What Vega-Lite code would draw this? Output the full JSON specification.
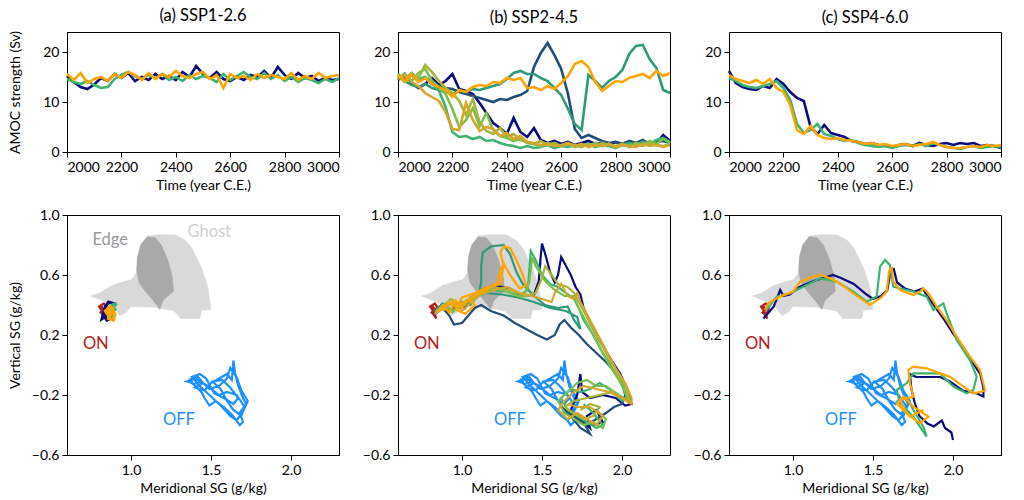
{
"$schema":"https://vega.github.io/schema/vega-lite/v6.json",
"padding":{"left":7,"top":7,"right":5,"bottom":2},
"config":{"font":"Lato","view":{"stroke":"black","strokeWidth":1},
"axis":{"grid":false,"domainColor":"black","tickColor":"black","labelColor":"black","titleColor":"black","labelFontSize":14,"titleFontSize":14,"titleFontWeight":"normal","tickSize":5,"labelPadding":3,"titlePadding":4,"labelFont":"Lato","titleFont":"Lato"},
"axisY":{"minExtent":40,"maxExtent":40,"titlePadding":5},
"title":{"fontSize":16.5,"fontWeight":"normal","font":"Lato","offset":6,"color":"black"}},
"columns":3,"bounds":"flush","align":"each","spacing":{"row":63,"column":59},
"datasets":{
"ts":[
{"p":"a","r":"r1","t":2000,"v":15.2},{"p":"a","r":"r1","t":2025,"v":14.0},{"p":"a","r":"r1","t":2050,"v":13.0},{"p":"a","r":"r1","t":2075,"v":12.6},{"p":"a","r":"r1","t":2100,"v":13.5},{"p":"a","r":"r1","t":2125,"v":14.8},{"p":"a","r":"r1","t":2150,"v":14.2},{"p":"a","r":"r1","t":2175,"v":15.6},{"p":"a","r":"r1","t":2200,"v":14.8},{"p":"a","r":"r1","t":2225,"v":15.8},{"p":"a","r":"r1","t":2250,"v":14.2},{"p":"a","r":"r1","t":2275,"v":15.0},{"p":"a","r":"r1","t":2300,"v":14.4},{"p":"a","r":"r1","t":2325,"v":15.6},{"p":"a","r":"r1","t":2350,"v":14.6},{"p":"a","r":"r1","t":2375,"v":15.2},{"p":"a","r":"r1","t":2400,"v":14.4},{"p":"a","r":"r1","t":2425,"v":16.0},{"p":"a","r":"r1","t":2450,"v":15.0},{"p":"a","r":"r1","t":2475,"v":17.2},{"p":"a","r":"r1","t":2500,"v":15.6},{"p":"a","r":"r1","t":2525,"v":14.8},{"p":"a","r":"r1","t":2550,"v":16.0},{"p":"a","r":"r1","t":2575,"v":14.6},{"p":"a","r":"r1","t":2600,"v":14.2},{"p":"a","r":"r1","t":2625,"v":15.0},{"p":"a","r":"r1","t":2650,"v":14.4},{"p":"a","r":"r1","t":2675,"v":15.4},{"p":"a","r":"r1","t":2700,"v":15.0},{"p":"a","r":"r1","t":2725,"v":16.2},{"p":"a","r":"r1","t":2750,"v":14.8},{"p":"a","r":"r1","t":2775,"v":17.0},{"p":"a","r":"r1","t":2800,"v":15.4},{"p":"a","r":"r1","t":2825,"v":14.6},{"p":"a","r":"r1","t":2850,"v":15.8},{"p":"a","r":"r1","t":2875,"v":14.8},{"p":"a","r":"r1","t":2900,"v":15.2},{"p":"a","r":"r1","t":2925,"v":14.2},{"p":"a","r":"r1","t":2950,"v":14.8},{"p":"a","r":"r1","t":2975,"v":14.4},{"p":"a","r":"r1","t":3000,"v":14.6},
{"p":"a","r":"r4","t":2000,"v":14.6},{"p":"a","r":"r4","t":2025,"v":14.0},{"p":"a","r":"r4","t":2050,"v":13.6},{"p":"a","r":"r4","t":2075,"v":14.2},{"p":"a","r":"r4","t":2100,"v":13.4},{"p":"a","r":"r4","t":2125,"v":12.8},{"p":"a","r":"r4","t":2150,"v":13.0},{"p":"a","r":"r4","t":2175,"v":14.6},{"p":"a","r":"r4","t":2200,"v":15.4},{"p":"a","r":"r4","t":2225,"v":16.0},{"p":"a","r":"r4","t":2250,"v":15.2},{"p":"a","r":"r4","t":2275,"v":14.6},{"p":"a","r":"r4","t":2300,"v":15.4},{"p":"a","r":"r4","t":2325,"v":14.8},{"p":"a","r":"r4","t":2350,"v":15.6},{"p":"a","r":"r4","t":2375,"v":14.4},{"p":"a","r":"r4","t":2400,"v":15.0},{"p":"a","r":"r4","t":2425,"v":14.2},{"p":"a","r":"r4","t":2450,"v":15.4},{"p":"a","r":"r4","t":2475,"v":14.6},{"p":"a","r":"r4","t":2500,"v":15.2},{"p":"a","r":"r4","t":2525,"v":14.8},{"p":"a","r":"r4","t":2550,"v":14.0},{"p":"a","r":"r4","t":2575,"v":15.6},{"p":"a","r":"r4","t":2600,"v":14.4},{"p":"a","r":"r4","t":2625,"v":15.2},{"p":"a","r":"r4","t":2650,"v":16.0},{"p":"a","r":"r4","t":2675,"v":15.0},{"p":"a","r":"r4","t":2700,"v":14.6},{"p":"a","r":"r4","t":2725,"v":15.8},{"p":"a","r":"r4","t":2750,"v":14.6},{"p":"a","r":"r4","t":2775,"v":15.4},{"p":"a","r":"r4","t":2800,"v":14.2},{"p":"a","r":"r4","t":2825,"v":15.0},{"p":"a","r":"r4","t":2850,"v":14.0},{"p":"a","r":"r4","t":2875,"v":14.8},{"p":"a","r":"r4","t":2900,"v":14.4},{"p":"a","r":"r4","t":2925,"v":13.8},{"p":"a","r":"r4","t":2950,"v":14.6},{"p":"a","r":"r4","t":2975,"v":14.0},{"p":"a","r":"r4","t":3000,"v":14.8},
{"p":"a","r":"r8","t":2000,"v":15.6},{"p":"a","r":"r8","t":2025,"v":14.4},{"p":"a","r":"r8","t":2050,"v":15.8},{"p":"a","r":"r8","t":2075,"v":13.8},{"p":"a","r":"r8","t":2100,"v":14.6},{"p":"a","r":"r8","t":2125,"v":15.0},{"p":"a","r":"r8","t":2150,"v":14.2},{"p":"a","r":"r8","t":2175,"v":15.6},{"p":"a","r":"r8","t":2200,"v":14.8},{"p":"a","r":"r8","t":2225,"v":16.0},{"p":"a","r":"r8","t":2250,"v":15.4},{"p":"a","r":"r8","t":2275,"v":14.4},{"p":"a","r":"r8","t":2300,"v":15.8},{"p":"a","r":"r8","t":2325,"v":14.6},{"p":"a","r":"r8","t":2350,"v":15.6},{"p":"a","r":"r8","t":2375,"v":15.0},{"p":"a","r":"r8","t":2400,"v":16.2},{"p":"a","r":"r8","t":2425,"v":15.2},{"p":"a","r":"r8","t":2450,"v":14.8},{"p":"a","r":"r8","t":2475,"v":15.6},{"p":"a","r":"r8","t":2500,"v":16.0},{"p":"a","r":"r8","t":2525,"v":14.6},{"p":"a","r":"r8","t":2550,"v":15.4},{"p":"a","r":"r8","t":2575,"v":12.8},{"p":"a","r":"r8","t":2600,"v":15.6},{"p":"a","r":"r8","t":2625,"v":14.8},{"p":"a","r":"r8","t":2650,"v":15.2},{"p":"a","r":"r8","t":2675,"v":14.4},{"p":"a","r":"r8","t":2700,"v":15.6},{"p":"a","r":"r8","t":2725,"v":14.8},{"p":"a","r":"r8","t":2750,"v":15.4},{"p":"a","r":"r8","t":2775,"v":15.0},{"p":"a","r":"r8","t":2800,"v":14.6},{"p":"a","r":"r8","t":2825,"v":15.8},{"p":"a","r":"r8","t":2850,"v":14.4},{"p":"a","r":"r8","t":2875,"v":15.2},{"p":"a","r":"r8","t":2900,"v":14.6},{"p":"a","r":"r8","t":2925,"v":15.8},{"p":"a","r":"r8","t":2950,"v":14.8},{"p":"a","r":"r8","t":2975,"v":15.2},{"p":"a","r":"r8","t":3000,"v":15.4},
{"p":"b","r":"r1","t":2000,"v":14.4},{"p":"b","r":"r1","t":2025,"v":15.6},{"p":"b","r":"r1","t":2050,"v":13.8},{"p":"b","r":"r1","t":2075,"v":12.8},{"p":"b","r":"r1","t":2100,"v":13.6},{"p":"b","r":"r1","t":2125,"v":14.8},{"p":"b","r":"r1","t":2150,"v":13.4},{"p":"b","r":"r1","t":2175,"v":14.2},{"p":"b","r":"r1","t":2200,"v":15.6},{"p":"b","r":"r1","t":2225,"v":12.6},{"p":"b","r":"r1","t":2250,"v":12.2},{"p":"b","r":"r1","t":2275,"v":11.6},{"p":"b","r":"r1","t":2300,"v":9.8},{"p":"b","r":"r1","t":2325,"v":7.8},{"p":"b","r":"r1","t":2350,"v":5.8},{"p":"b","r":"r1","t":2375,"v":4.8},{"p":"b","r":"r1","t":2400,"v":3.6},{"p":"b","r":"r1","t":2425,"v":6.8},{"p":"b","r":"r1","t":2450,"v":4.0},{"p":"b","r":"r1","t":2475,"v":3.0},{"p":"b","r":"r1","t":2500,"v":4.8},{"p":"b","r":"r1","t":2525,"v":2.4},{"p":"b","r":"r1","t":2550,"v":1.8},{"p":"b","r":"r1","t":2575,"v":2.2},{"p":"b","r":"r1","t":2600,"v":1.6},{"p":"b","r":"r1","t":2625,"v":2.0},{"p":"b","r":"r1","t":2650,"v":1.4},{"p":"b","r":"r1","t":2675,"v":1.8},{"p":"b","r":"r1","t":2700,"v":2.2},{"p":"b","r":"r1","t":2725,"v":1.6},{"p":"b","r":"r1","t":2750,"v":1.8},{"p":"b","r":"r1","t":2775,"v":1.4},{"p":"b","r":"r1","t":2800,"v":2.0},{"p":"b","r":"r1","t":2825,"v":1.6},{"p":"b","r":"r1","t":2850,"v":1.2},{"p":"b","r":"r1","t":2875,"v":1.8},{"p":"b","r":"r1","t":2900,"v":1.4},{"p":"b","r":"r1","t":2925,"v":2.0},{"p":"b","r":"r1","t":2950,"v":1.8},{"p":"b","r":"r1","t":2975,"v":3.4},{"p":"b","r":"r1","t":3000,"v":2.2},
{"p":"b","r":"r2","t":2000,"v":15.2},{"p":"b","r":"r2","t":2025,"v":14.6},{"p":"b","r":"r2","t":2050,"v":15.4},{"p":"b","r":"r2","t":2075,"v":14.2},{"p":"b","r":"r2","t":2100,"v":14.8},{"p":"b","r":"r2","t":2125,"v":13.6},{"p":"b","r":"r2","t":2150,"v":13.2},{"p":"b","r":"r2","t":2175,"v":12.8},{"p":"b","r":"r2","t":2200,"v":12.6},{"p":"b","r":"r2","t":2225,"v":12.0},{"p":"b","r":"r2","t":2250,"v":11.6},{"p":"b","r":"r2","t":2275,"v":11.2},{"p":"b","r":"r2","t":2300,"v":10.8},{"p":"b","r":"r2","t":2325,"v":10.4},{"p":"b","r":"r2","t":2350,"v":10.0},{"p":"b","r":"r2","t":2375,"v":10.6},{"p":"b","r":"r2","t":2400,"v":10.4},{"p":"b","r":"r2","t":2425,"v":11.0},{"p":"b","r":"r2","t":2450,"v":11.4},{"p":"b","r":"r2","t":2475,"v":12.2},{"p":"b","r":"r2","t":2500,"v":17.0},{"p":"b","r":"r2","t":2525,"v":19.8},{"p":"b","r":"r2","t":2550,"v":21.8},{"p":"b","r":"r2","t":2575,"v":19.4},{"p":"b","r":"r2","t":2600,"v":16.6},{"p":"b","r":"r2","t":2625,"v":11.6},{"p":"b","r":"r2","t":2650,"v":4.6},{"p":"b","r":"r2","t":2675,"v":2.8},{"p":"b","r":"r2","t":2700,"v":3.4},{"p":"b","r":"r2","t":2725,"v":2.8},{"p":"b","r":"r2","t":2750,"v":2.2},{"p":"b","r":"r2","t":2775,"v":1.8},{"p":"b","r":"r2","t":2800,"v":2.0},{"p":"b","r":"r2","t":2825,"v":1.6},{"p":"b","r":"r2","t":2850,"v":2.2},{"p":"b","r":"r2","t":2875,"v":1.8},{"p":"b","r":"r2","t":2900,"v":2.4},{"p":"b","r":"r2","t":2925,"v":1.6},{"p":"b","r":"r2","t":2950,"v":2.0},{"p":"b","r":"r2","t":2975,"v":2.2},{"p":"b","r":"r2","t":3000,"v":1.8},
{"p":"b","r":"r3","t":2000,"v":15.0},{"p":"b","r":"r3","t":2025,"v":14.2},{"p":"b","r":"r3","t":2050,"v":13.4},{"p":"b","r":"r3","t":2075,"v":13.0},{"p":"b","r":"r3","t":2100,"v":13.6},{"p":"b","r":"r3","t":2125,"v":12.8},{"p":"b","r":"r3","t":2150,"v":12.4},{"p":"b","r":"r3","t":2175,"v":12.0},{"p":"b","r":"r3","t":2200,"v":11.6},{"p":"b","r":"r3","t":2225,"v":12.2},{"p":"b","r":"r3","t":2250,"v":12.0},{"p":"b","r":"r3","t":2275,"v":12.6},{"p":"b","r":"r3","t":2300,"v":12.4},{"p":"b","r":"r3","t":2325,"v":12.8},{"p":"b","r":"r3","t":2350,"v":13.2},{"p":"b","r":"r3","t":2375,"v":13.6},{"p":"b","r":"r3","t":2400,"v":14.6},{"p":"b","r":"r3","t":2425,"v":15.8},{"p":"b","r":"r3","t":2450,"v":16.2},{"p":"b","r":"r3","t":2475,"v":15.6},{"p":"b","r":"r3","t":2500,"v":15.6},{"p":"b","r":"r3","t":2525,"v":14.8},{"p":"b","r":"r3","t":2550,"v":14.2},{"p":"b","r":"r3","t":2575,"v":12.8},{"p":"b","r":"r3","t":2600,"v":11.4},{"p":"b","r":"r3","t":2625,"v":8.6},{"p":"b","r":"r3","t":2650,"v":5.6},{"p":"b","r":"r3","t":2675,"v":4.4},{"p":"b","r":"r3","t":2700,"v":15.4},{"p":"b","r":"r3","t":2725,"v":14.2},{"p":"b","r":"r3","t":2750,"v":12.8},{"p":"b","r":"r3","t":2775,"v":14.2},{"p":"b","r":"r3","t":2800,"v":15.0},{"p":"b","r":"r3","t":2825,"v":16.4},{"p":"b","r":"r3","t":2850,"v":19.6},{"p":"b","r":"r3","t":2875,"v":21.2},{"p":"b","r":"r3","t":2900,"v":21.4},{"p":"b","r":"r3","t":2925,"v":18.6},{"p":"b","r":"r3","t":2950,"v":16.8},{"p":"b","r":"r3","t":2975,"v":12.4},{"p":"b","r":"r3","t":3000,"v":11.8},
{"p":"b","r":"r4","t":2000,"v":15.6},{"p":"b","r":"r4","t":2025,"v":14.4},{"p":"b","r":"r4","t":2050,"v":15.8},{"p":"b","r":"r4","t":2075,"v":14.6},{"p":"b","r":"r4","t":2100,"v":15.0},{"p":"b","r":"r4","t":2125,"v":13.8},{"p":"b","r":"r4","t":2150,"v":12.4},{"p":"b","r":"r4","t":2175,"v":9.0},{"p":"b","r":"r4","t":2200,"v":4.0},{"p":"b","r":"r4","t":2225,"v":3.0},{"p":"b","r":"r4","t":2250,"v":3.2},{"p":"b","r":"r4","t":2275,"v":2.6},{"p":"b","r":"r4","t":2300,"v":3.0},{"p":"b","r":"r4","t":2325,"v":2.2},{"p":"b","r":"r4","t":2350,"v":2.4},{"p":"b","r":"r4","t":2375,"v":1.8},{"p":"b","r":"r4","t":2400,"v":1.4},{"p":"b","r":"r4","t":2425,"v":1.2},{"p":"b","r":"r4","t":2450,"v":0.8},{"p":"b","r":"r4","t":2475,"v":1.2},{"p":"b","r":"r4","t":2500,"v":0.8},{"p":"b","r":"r4","t":2525,"v":1.0},{"p":"b","r":"r4","t":2550,"v":1.4},{"p":"b","r":"r4","t":2575,"v":0.8},{"p":"b","r":"r4","t":2600,"v":1.2},{"p":"b","r":"r4","t":2625,"v":1.0},{"p":"b","r":"r4","t":2650,"v":1.4},{"p":"b","r":"r4","t":2675,"v":1.2},{"p":"b","r":"r4","t":2700,"v":1.6},{"p":"b","r":"r4","t":2725,"v":1.0},{"p":"b","r":"r4","t":2750,"v":1.4},{"p":"b","r":"r4","t":2775,"v":1.2},{"p":"b","r":"r4","t":2800,"v":0.8},{"p":"b","r":"r4","t":2825,"v":1.4},{"p":"b","r":"r4","t":2850,"v":1.8},{"p":"b","r":"r4","t":2875,"v":1.4},{"p":"b","r":"r4","t":2900,"v":2.0},{"p":"b","r":"r4","t":2925,"v":1.6},{"p":"b","r":"r4","t":2950,"v":2.4},{"p":"b","r":"r4","t":2975,"v":2.8},{"p":"b","r":"r4","t":3000,"v":2.0},
{"p":"b","r":"r5","t":2000,"v":14.8},{"p":"b","r":"r5","t":2025,"v":15.6},{"p":"b","r":"r5","t":2050,"v":14.2},{"p":"b","r":"r5","t":2075,"v":15.8},{"p":"b","r":"r5","t":2100,"v":16.6},{"p":"b","r":"r5","t":2125,"v":14.2},{"p":"b","r":"r5","t":2150,"v":13.0},{"p":"b","r":"r5","t":2175,"v":11.6},{"p":"b","r":"r5","t":2200,"v":8.6},{"p":"b","r":"r5","t":2225,"v":5.0},{"p":"b","r":"r5","t":2250,"v":6.4},{"p":"b","r":"r5","t":2275,"v":8.8},{"p":"b","r":"r5","t":2300,"v":5.2},{"p":"b","r":"r5","t":2325,"v":7.8},{"p":"b","r":"r5","t":2350,"v":4.4},{"p":"b","r":"r5","t":2375,"v":3.2},{"p":"b","r":"r5","t":2400,"v":2.8},{"p":"b","r":"r5","t":2425,"v":2.2},{"p":"b","r":"r5","t":2450,"v":2.6},{"p":"b","r":"r5","t":2475,"v":1.8},{"p":"b","r":"r5","t":2500,"v":1.6},{"p":"b","r":"r5","t":2525,"v":1.2},{"p":"b","r":"r5","t":2550,"v":1.8},{"p":"b","r":"r5","t":2575,"v":1.4},{"p":"b","r":"r5","t":2600,"v":1.2},{"p":"b","r":"r5","t":2625,"v":1.6},{"p":"b","r":"r5","t":2650,"v":1.0},{"p":"b","r":"r5","t":2675,"v":1.4},{"p":"b","r":"r5","t":2700,"v":1.2},{"p":"b","r":"r5","t":2725,"v":1.8},{"p":"b","r":"r5","t":2750,"v":1.2},{"p":"b","r":"r5","t":2775,"v":1.6},{"p":"b","r":"r5","t":2800,"v":1.0},{"p":"b","r":"r5","t":2825,"v":1.4},{"p":"b","r":"r5","t":2850,"v":1.2},{"p":"b","r":"r5","t":2875,"v":1.8},{"p":"b","r":"r5","t":2900,"v":1.4},{"p":"b","r":"r5","t":2925,"v":2.2},{"p":"b","r":"r5","t":2950,"v":1.6},{"p":"b","r":"r5","t":2975,"v":2.6},{"p":"b","r":"r5","t":3000,"v":1.8},
{"p":"b","r":"r6","t":2000,"v":15.2},{"p":"b","r":"r6","t":2025,"v":14.0},{"p":"b","r":"r6","t":2050,"v":15.4},{"p":"b","r":"r6","t":2075,"v":14.8},{"p":"b","r":"r6","t":2100,"v":17.4},{"p":"b","r":"r6","t":2125,"v":16.0},{"p":"b","r":"r6","t":2150,"v":14.2},{"p":"b","r":"r6","t":2175,"v":12.8},{"p":"b","r":"r6","t":2200,"v":11.8},{"p":"b","r":"r6","t":2225,"v":10.2},{"p":"b","r":"r6","t":2250,"v":7.4},{"p":"b","r":"r6","t":2275,"v":10.6},{"p":"b","r":"r6","t":2300,"v":6.0},{"p":"b","r":"r6","t":2325,"v":4.2},{"p":"b","r":"r6","t":2350,"v":3.6},{"p":"b","r":"r6","t":2375,"v":4.8},{"p":"b","r":"r6","t":2400,"v":3.0},{"p":"b","r":"r6","t":2425,"v":3.6},{"p":"b","r":"r6","t":2450,"v":2.4},{"p":"b","r":"r6","t":2475,"v":2.0},{"p":"b","r":"r6","t":2500,"v":1.6},{"p":"b","r":"r6","t":2525,"v":2.2},{"p":"b","r":"r6","t":2550,"v":1.4},{"p":"b","r":"r6","t":2575,"v":1.8},{"p":"b","r":"r6","t":2600,"v":1.2},{"p":"b","r":"r6","t":2625,"v":1.6},{"p":"b","r":"r6","t":2650,"v":1.4},{"p":"b","r":"r6","t":2675,"v":1.0},{"p":"b","r":"r6","t":2700,"v":1.6},{"p":"b","r":"r6","t":2725,"v":1.2},{"p":"b","r":"r6","t":2750,"v":1.8},{"p":"b","r":"r6","t":2775,"v":1.4},{"p":"b","r":"r6","t":2800,"v":1.2},{"p":"b","r":"r6","t":2825,"v":1.6},{"p":"b","r":"r6","t":2850,"v":1.0},{"p":"b","r":"r6","t":2875,"v":1.4},{"p":"b","r":"r6","t":2900,"v":1.2},{"p":"b","r":"r6","t":2925,"v":1.8},{"p":"b","r":"r6","t":2950,"v":1.4},{"p":"b","r":"r6","t":2975,"v":1.2},{"p":"b","r":"r6","t":3000,"v":1.6},
{"p":"b","r":"r7","t":2000,"v":14.6},{"p":"b","r":"r7","t":2025,"v":15.4},{"p":"b","r":"r7","t":2050,"v":14.0},{"p":"b","r":"r7","t":2075,"v":13.2},{"p":"b","r":"r7","t":2100,"v":11.8},{"p":"b","r":"r7","t":2125,"v":11.0},{"p":"b","r":"r7","t":2150,"v":10.2},{"p":"b","r":"r7","t":2175,"v":8.0},{"p":"b","r":"r7","t":2200,"v":4.6},{"p":"b","r":"r7","t":2225,"v":4.4},{"p":"b","r":"r7","t":2250,"v":9.8},{"p":"b","r":"r7","t":2275,"v":6.4},{"p":"b","r":"r7","t":2300,"v":4.2},{"p":"b","r":"r7","t":2325,"v":5.0},{"p":"b","r":"r7","t":2350,"v":4.6},{"p":"b","r":"r7","t":2375,"v":3.2},{"p":"b","r":"r7","t":2400,"v":3.8},{"p":"b","r":"r7","t":2425,"v":2.6},{"p":"b","r":"r7","t":2450,"v":3.2},{"p":"b","r":"r7","t":2475,"v":2.0},{"p":"b","r":"r7","t":2500,"v":1.8},{"p":"b","r":"r7","t":2525,"v":1.4},{"p":"b","r":"r7","t":2550,"v":1.6},{"p":"b","r":"r7","t":2575,"v":1.2},{"p":"b","r":"r7","t":2600,"v":1.4},{"p":"b","r":"r7","t":2625,"v":1.8},{"p":"b","r":"r7","t":2650,"v":1.2},{"p":"b","r":"r7","t":2675,"v":1.6},{"p":"b","r":"r7","t":2700,"v":1.0},{"p":"b","r":"r7","t":2725,"v":1.4},{"p":"b","r":"r7","t":2750,"v":1.2},{"p":"b","r":"r7","t":2775,"v":1.6},{"p":"b","r":"r7","t":2800,"v":1.0},{"p":"b","r":"r7","t":2825,"v":1.4},{"p":"b","r":"r7","t":2850,"v":1.2},{"p":"b","r":"r7","t":2875,"v":1.0},{"p":"b","r":"r7","t":2900,"v":1.6},{"p":"b","r":"r7","t":2925,"v":1.2},{"p":"b","r":"r7","t":2950,"v":1.4},{"p":"b","r":"r7","t":2975,"v":1.0},{"p":"b","r":"r7","t":3000,"v":1.4},
{"p":"b","r":"r8","t":2000,"v":15.4},{"p":"b","r":"r8","t":2025,"v":14.2},{"p":"b","r":"r8","t":2050,"v":15.6},{"p":"b","r":"r8","t":2075,"v":14.0},{"p":"b","r":"r8","t":2100,"v":14.8},{"p":"b","r":"r8","t":2125,"v":13.6},{"p":"b","r":"r8","t":2150,"v":13.0},{"p":"b","r":"r8","t":2175,"v":12.4},{"p":"b","r":"r8","t":2200,"v":11.0},{"p":"b","r":"r8","t":2225,"v":12.4},{"p":"b","r":"r8","t":2250,"v":12.0},{"p":"b","r":"r8","t":2275,"v":13.0},{"p":"b","r":"r8","t":2300,"v":13.4},{"p":"b","r":"r8","t":2325,"v":13.2},{"p":"b","r":"r8","t":2350,"v":14.0},{"p":"b","r":"r8","t":2375,"v":13.8},{"p":"b","r":"r8","t":2400,"v":14.8},{"p":"b","r":"r8","t":2425,"v":14.4},{"p":"b","r":"r8","t":2450,"v":14.8},{"p":"b","r":"r8","t":2475,"v":12.8},{"p":"b","r":"r8","t":2500,"v":13.0},{"p":"b","r":"r8","t":2525,"v":12.4},{"p":"b","r":"r8","t":2550,"v":13.2},{"p":"b","r":"r8","t":2575,"v":12.6},{"p":"b","r":"r8","t":2600,"v":13.8},{"p":"b","r":"r8","t":2625,"v":15.2},{"p":"b","r":"r8","t":2650,"v":17.6},{"p":"b","r":"r8","t":2675,"v":18.2},{"p":"b","r":"r8","t":2700,"v":17.0},{"p":"b","r":"r8","t":2725,"v":14.0},{"p":"b","r":"r8","t":2750,"v":12.2},{"p":"b","r":"r8","t":2775,"v":13.2},{"p":"b","r":"r8","t":2800,"v":14.2},{"p":"b","r":"r8","t":2825,"v":14.0},{"p":"b","r":"r8","t":2850,"v":14.8},{"p":"b","r":"r8","t":2875,"v":15.2},{"p":"b","r":"r8","t":2900,"v":15.6},{"p":"b","r":"r8","t":2925,"v":14.8},{"p":"b","r":"r8","t":2950,"v":16.2},{"p":"b","r":"r8","t":2975,"v":15.2},{"p":"b","r":"r8","t":3000,"v":15.8},
{"p":"c","r":"r1","t":2000,"v":16.2},{"p":"c","r":"r1","t":2025,"v":13.8},{"p":"c","r":"r1","t":2050,"v":13.0},{"p":"c","r":"r1","t":2075,"v":12.6},{"p":"c","r":"r1","t":2100,"v":12.4},{"p":"c","r":"r1","t":2125,"v":13.2},{"p":"c","r":"r1","t":2150,"v":12.8},{"p":"c","r":"r1","t":2175,"v":14.6},{"p":"c","r":"r1","t":2200,"v":13.6},{"p":"c","r":"r1","t":2225,"v":12.0},{"p":"c","r":"r1","t":2250,"v":10.8},{"p":"c","r":"r1","t":2275,"v":10.2},{"p":"c","r":"r1","t":2300,"v":5.0},{"p":"c","r":"r1","t":2325,"v":3.6},{"p":"c","r":"r1","t":2350,"v":5.4},{"p":"c","r":"r1","t":2375,"v":3.8},{"p":"c","r":"r1","t":2400,"v":3.4},{"p":"c","r":"r1","t":2425,"v":3.0},{"p":"c","r":"r1","t":2450,"v":2.2},{"p":"c","r":"r1","t":2475,"v":2.0},{"p":"c","r":"r1","t":2500,"v":1.6},{"p":"c","r":"r1","t":2525,"v":1.8},{"p":"c","r":"r1","t":2550,"v":1.4},{"p":"c","r":"r1","t":2575,"v":1.2},{"p":"c","r":"r1","t":2600,"v":1.0},{"p":"c","r":"r1","t":2625,"v":1.4},{"p":"c","r":"r1","t":2650,"v":1.6},{"p":"c","r":"r1","t":2675,"v":1.2},{"p":"c","r":"r1","t":2700,"v":1.8},{"p":"c","r":"r1","t":2725,"v":1.4},{"p":"c","r":"r1","t":2750,"v":1.2},{"p":"c","r":"r1","t":2775,"v":1.6},{"p":"c","r":"r1","t":2800,"v":1.8},{"p":"c","r":"r1","t":2825,"v":1.4},{"p":"c","r":"r1","t":2850,"v":1.8},{"p":"c","r":"r1","t":2875,"v":1.6},{"p":"c","r":"r1","t":2900,"v":1.8},{"p":"c","r":"r1","t":2925,"v":1.2},{"p":"c","r":"r1","t":2950,"v":1.4},{"p":"c","r":"r1","t":2975,"v":1.2},{"p":"c","r":"r1","t":3000,"v":0.8},
{"p":"c","r":"r4","t":2000,"v":14.8},{"p":"c","r":"r4","t":2025,"v":14.2},{"p":"c","r":"r4","t":2050,"v":13.4},{"p":"c","r":"r4","t":2075,"v":13.0},{"p":"c","r":"r4","t":2100,"v":12.8},{"p":"c","r":"r4","t":2125,"v":13.2},{"p":"c","r":"r4","t":2150,"v":13.6},{"p":"c","r":"r4","t":2175,"v":14.2},{"p":"c","r":"r4","t":2200,"v":12.8},{"p":"c","r":"r4","t":2225,"v":10.4},{"p":"c","r":"r4","t":2250,"v":5.6},{"p":"c","r":"r4","t":2275,"v":3.8},{"p":"c","r":"r4","t":2300,"v":4.4},{"p":"c","r":"r4","t":2325,"v":5.6},{"p":"c","r":"r4","t":2350,"v":3.6},{"p":"c","r":"r4","t":2375,"v":3.2},{"p":"c","r":"r4","t":2400,"v":2.6},{"p":"c","r":"r4","t":2425,"v":2.2},{"p":"c","r":"r4","t":2450,"v":2.4},{"p":"c","r":"r4","t":2475,"v":1.8},{"p":"c","r":"r4","t":2500,"v":1.4},{"p":"c","r":"r4","t":2525,"v":1.2},{"p":"c","r":"r4","t":2550,"v":1.0},{"p":"c","r":"r4","t":2575,"v":1.2},{"p":"c","r":"r4","t":2600,"v":0.8},{"p":"c","r":"r4","t":2625,"v":1.2},{"p":"c","r":"r4","t":2650,"v":1.4},{"p":"c","r":"r4","t":2675,"v":1.2},{"p":"c","r":"r4","t":2700,"v":1.6},{"p":"c","r":"r4","t":2725,"v":1.2},{"p":"c","r":"r4","t":2750,"v":1.8},{"p":"c","r":"r4","t":2775,"v":1.4},{"p":"c","r":"r4","t":2800,"v":1.0},{"p":"c","r":"r4","t":2825,"v":0.8},{"p":"c","r":"r4","t":2850,"v":0.6},{"p":"c","r":"r4","t":2875,"v":1.0},{"p":"c","r":"r4","t":2900,"v":1.2},{"p":"c","r":"r4","t":2925,"v":0.8},{"p":"c","r":"r4","t":2950,"v":1.0},{"p":"c","r":"r4","t":2975,"v":1.2},{"p":"c","r":"r4","t":3000,"v":1.0},
{"p":"c","r":"r8","t":2000,"v":15.4},{"p":"c","r":"r8","t":2025,"v":14.6},{"p":"c","r":"r8","t":2050,"v":14.2},{"p":"c","r":"r8","t":2075,"v":13.8},{"p":"c","r":"r8","t":2100,"v":14.4},{"p":"c","r":"r8","t":2125,"v":13.6},{"p":"c","r":"r8","t":2150,"v":14.6},{"p":"c","r":"r8","t":2175,"v":12.8},{"p":"c","r":"r8","t":2200,"v":12.0},{"p":"c","r":"r8","t":2225,"v":9.4},{"p":"c","r":"r8","t":2250,"v":4.4},{"p":"c","r":"r8","t":2275,"v":3.6},{"p":"c","r":"r8","t":2300,"v":5.2},{"p":"c","r":"r8","t":2325,"v":3.4},{"p":"c","r":"r8","t":2350,"v":2.8},{"p":"c","r":"r8","t":2375,"v":2.6},{"p":"c","r":"r8","t":2400,"v":2.8},{"p":"c","r":"r8","t":2425,"v":2.4},{"p":"c","r":"r8","t":2450,"v":2.2},{"p":"c","r":"r8","t":2475,"v":2.0},{"p":"c","r":"r8","t":2500,"v":1.6},{"p":"c","r":"r8","t":2525,"v":1.8},{"p":"c","r":"r8","t":2550,"v":1.4},{"p":"c","r":"r8","t":2575,"v":1.6},{"p":"c","r":"r8","t":2600,"v":1.2},{"p":"c","r":"r8","t":2625,"v":1.4},{"p":"c","r":"r8","t":2650,"v":1.6},{"p":"c","r":"r8","t":2675,"v":1.2},{"p":"c","r":"r8","t":2700,"v":1.4},{"p":"c","r":"r8","t":2725,"v":1.6},{"p":"c","r":"r8","t":2750,"v":2.0},{"p":"c","r":"r8","t":2775,"v":1.4},{"p":"c","r":"r8","t":2800,"v":1.0},{"p":"c","r":"r8","t":2825,"v":0.8},{"p":"c","r":"r8","t":2850,"v":0.8},{"p":"c","r":"r8","t":2875,"v":1.0},{"p":"c","r":"r8","t":2900,"v":1.2},{"p":"c","r":"r8","t":2925,"v":1.0},{"p":"c","r":"r8","t":2950,"v":1.4},{"p":"c","r":"r8","t":2975,"v":1.2},{"p":"c","r":"r8","t":3000,"v":1.4}
],
"shapes":[
{"g":"ghost","i":1,"x":0.745,"y":0.46},{"g":"ghost","i":2,"x":0.8,"y":0.478},{"g":"ghost","i":3,"x":0.88,"y":0.53},{"g":"ghost","i":4,"x":0.95,"y":0.555},{"g":"ghost","i":5,"x":1.005,"y":0.57},{"g":"ghost","i":6,"x":1.05,"y":0.64},{"g":"ghost","i":7,"x":1.07,"y":0.78},{"g":"ghost","i":8,"x":1.1,"y":0.86},{"g":"ghost","i":9,"x":1.18,"y":0.87},{"g":"ghost","i":10,"x":1.28,"y":0.867},{"g":"ghost","i":11,"x":1.34,"y":0.83},{"g":"ghost","i":12,"x":1.38,"y":0.78},{"g":"ghost","i":13,"x":1.44,"y":0.65},{"g":"ghost","i":14,"x":1.48,"y":0.52},{"g":"ghost","i":15,"x":1.5,"y":0.37},{"g":"ghost","i":16,"x":1.44,"y":0.365},{"g":"ghost","i":17,"x":1.43,"y":0.31},{"g":"ghost","i":18,"x":1.31,"y":0.31},{"g":"ghost","i":19,"x":1.27,"y":0.36},{"g":"ghost","i":20,"x":1.15,"y":0.385},{"g":"ghost","i":21,"x":1.0,"y":0.39},{"g":"ghost","i":22,"x":0.97,"y":0.35},{"g":"ghost","i":23,"x":0.93,"y":0.33},{"g":"ghost","i":24,"x":0.91,"y":0.36},{"g":"ghost","i":25,"x":0.88,"y":0.4},{"g":"ghost","i":26,"x":0.82,"y":0.43},{"g":"ghost","i":27,"x":0.745,"y":0.46},
{"g":"edge","i":1,"x":1.1,"y":0.855},{"g":"edge","i":2,"x":1.06,"y":0.8},{"g":"edge","i":3,"x":1.04,"y":0.72},{"g":"edge","i":4,"x":1.035,"y":0.63},{"g":"edge","i":5,"x":1.05,"y":0.55},{"g":"edge","i":6,"x":1.09,"y":0.49},{"g":"edge","i":7,"x":1.13,"y":0.44},{"g":"edge","i":8,"x":1.16,"y":0.4},{"g":"edge","i":9,"x":1.18,"y":0.37},{"g":"edge","i":10,"x":1.2,"y":0.43},{"g":"edge","i":11,"x":1.23,"y":0.46},{"g":"edge","i":12,"x":1.265,"y":0.49},{"g":"edge","i":13,"x":1.26,"y":0.58},{"g":"edge","i":14,"x":1.23,"y":0.7},{"g":"edge","i":15,"x":1.19,"y":0.8},{"g":"edge","i":16,"x":1.15,"y":0.85},{"g":"edge","i":17,"x":1.1,"y":0.855}
],
"attr":[
{"g":"OFF","i":1,"x":1.36,"y":-0.1},{"g":"OFF","i":2,"x":1.42,"y":-0.08},{"g":"OFF","i":3,"x":1.45,"y":-0.12},{"g":"OFF","i":4,"x":1.4,"y":-0.15},{"g":"OFF","i":5,"x":1.46,"y":-0.17},{"g":"OFF","i":6,"x":1.5,"y":-0.12},{"g":"OFF","i":7,"x":1.55,"y":-0.09},{"g":"OFF","i":8,"x":1.6,"y":-0.06},{"g":"OFF","i":9,"x":1.63,"y":-0.1},{"g":"OFF","i":10,"x":1.64,"y":0.03},{"g":"OFF","i":11,"x":1.65,"y":-0.05},{"g":"OFF","i":12,"x":1.67,"y":-0.14},{"g":"OFF","i":13,"x":1.7,"y":-0.22},{"g":"OFF","i":14,"x":1.72,"y":-0.26},{"g":"OFF","i":15,"x":1.68,"y":-0.32},{"g":"OFF","i":16,"x":1.7,"y":-0.38},{"g":"OFF","i":17,"x":1.68,"y":-0.4},{"g":"OFF","i":18,"x":1.63,"y":-0.33},{"g":"OFF","i":19,"x":1.58,"y":-0.28},{"g":"OFF","i":20,"x":1.53,"y":-0.24},{"g":"OFF","i":21,"x":1.49,"y":-0.27},{"g":"OFF","i":22,"x":1.46,"y":-0.22},{"g":"OFF","i":23,"x":1.44,"y":-0.18},{"g":"OFF","i":24,"x":1.38,"y":-0.12},{"g":"OFF","i":25,"x":1.35,"y":-0.11},{"g":"OFF","i":26,"x":1.4,"y":-0.09},{"g":"OFF","i":27,"x":1.48,"y":-0.14},{"g":"OFF","i":28,"x":1.55,"y":-0.2},{"g":"OFF","i":29,"x":1.6,"y":-0.18},{"g":"OFF","i":30,"x":1.66,"y":-0.2},{"g":"OFF","i":31,"x":1.71,"y":-0.28},{"g":"OFF","i":32,"x":1.69,"y":-0.34},{"g":"OFF","i":33,"x":1.64,"y":-0.3},{"g":"OFF","i":34,"x":1.6,"y":-0.24},{"g":"OFF","i":35,"x":1.56,"y":-0.16},{"g":"OFF","i":36,"x":1.51,"y":-0.11},{"g":"OFF","i":37,"x":1.57,"y":-0.1},{"g":"OFF","i":38,"x":1.62,"y":-0.15},{"g":"OFF","i":39,"x":1.67,"y":-0.22},{"g":"OFF","i":40,"x":1.64,"y":-0.26},{"g":"OFF","i":41,"x":1.58,"y":-0.22},{"g":"OFF","i":42,"x":1.52,"y":-0.19},{"g":"OFF","i":43,"x":1.47,"y":-0.09},{"g":"OFF","i":44,"x":1.43,"y":-0.06},{"g":"OFF","i":45,"x":1.38,"y":-0.08},{"g":"OFF","i":46,"x":1.42,"y":-0.13},{"g":"OFF","i":47,"x":1.5,"y":-0.21},{"g":"OFF","i":48,"x":1.56,"y":-0.27},{"g":"OFF","i":49,"x":1.62,"y":-0.34},{"g":"OFF","i":50,"x":1.66,"y":-0.37},{"g":"OFF","i":51,"x":1.7,"y":-0.31},{"g":"OFF","i":52,"x":1.73,"y":-0.24},{"g":"OFF","i":53,"x":1.69,"y":-0.17},{"g":"OFF","i":54,"x":1.66,"y":-0.08},{"g":"OFF","i":55,"x":1.62,"y":-0.02},{"g":"OFF","i":56,"x":1.6,"y":-0.09},{"g":"OFF","i":57,"x":1.55,"y":-0.14},{"g":"OFF","i":58,"x":1.49,"y":-0.16},{"g":"OFF","i":59,"x":1.44,"y":-0.11},{"g":"OFF","i":60,"x":1.39,"y":-0.13},{"g":"OFF","i":61,"x":1.37,"y":-0.09},
{"g":"ON","i":1,"x":0.83,"y":0.37},{"g":"ON","i":2,"x":0.81,"y":0.4},{"g":"ON","i":3,"x":0.82,"y":0.34},{"g":"ON","i":4,"x":0.84,"y":0.31},{"g":"ON","i":5,"x":0.82,"y":0.36},{"g":"ON","i":6,"x":0.8,"y":0.39},{"g":"ON","i":7,"x":0.83,"y":0.41},{"g":"ON","i":8,"x":0.85,"y":0.38},{"g":"ON","i":9,"x":0.83,"y":0.33},{"g":"ON","i":10,"x":0.81,"y":0.35},{"g":"ON","i":11,"x":0.84,"y":0.38}
],
"traj":[
{"p":"a","r":"r1","i":1,"x":0.83,"y":0.33},{"p":"a","r":"r1","i":2,"x":0.85,"y":0.3},{"p":"a","r":"r1","i":3,"x":0.88,"y":0.32},{"p":"a","r":"r1","i":4,"x":0.86,"y":0.37},{"p":"a","r":"r1","i":5,"x":0.89,"y":0.41},{"p":"a","r":"r1","i":6,"x":0.86,"y":0.42},{"p":"a","r":"r1","i":7,"x":0.84,"y":0.39},{"p":"a","r":"r1","i":8,"x":0.82,"y":0.31},{"p":"a","r":"r1","i":9,"x":0.86,"y":0.34},{"p":"a","r":"r1","i":10,"x":0.84,"y":0.36},
{"p":"a","r":"r4","i":1,"x":0.86,"y":0.36},{"p":"a","r":"r4","i":2,"x":0.89,"y":0.39},{"p":"a","r":"r4","i":3,"x":0.91,"y":0.41},{"p":"a","r":"r4","i":4,"x":0.88,"y":0.4},{"p":"a","r":"r4","i":5,"x":0.9,"y":0.37},{"p":"a","r":"r4","i":6,"x":0.87,"y":0.34},{"p":"a","r":"r4","i":7,"x":0.89,"y":0.31},{"p":"a","r":"r4","i":8,"x":0.86,"y":0.33},{"p":"a","r":"r4","i":9,"x":0.88,"y":0.38},
{"p":"a","r":"r8","i":1,"x":0.85,"y":0.35},{"p":"a","r":"r8","i":2,"x":0.88,"y":0.37},{"p":"a","r":"r8","i":3,"x":0.86,"y":0.31},{"p":"a","r":"r8","i":4,"x":0.89,"y":0.3},{"p":"a","r":"r8","i":5,"x":0.9,"y":0.34},{"p":"a","r":"r8","i":6,"x":0.87,"y":0.39},{"p":"a","r":"r8","i":7,"x":0.84,"y":0.36},{"p":"a","r":"r8","i":8,"x":0.86,"y":0.33},{"p":"a","r":"r8","i":9,"x":0.88,"y":0.35},{"p":"a","r":"r8","i":10,"x":0.85,"y":0.38},{"p":"a","r":"r8","i":11,"x":0.87,"y":0.36},
{"p":"b","r":"r1","i":1,"x":0.83,"y":0.35},{"p":"b","r":"r1","i":2,"x":0.87,"y":0.4},{"p":"b","r":"r1","i":3,"x":0.92,"y":0.36},{"p":"b","r":"r1","i":4,"x":0.97,"y":0.41},{"p":"b","r":"r1","i":5,"x":1.02,"y":0.38},{"p":"b","r":"r1","i":6,"x":1.06,"y":0.44},{"p":"b","r":"r1","i":7,"x":1.12,"y":0.5},{"p":"b","r":"r1","i":8,"x":1.2,"y":0.53},{"p":"b","r":"r1","i":9,"x":1.3,"y":0.51},{"p":"b","r":"r1","i":10,"x":1.38,"y":0.46},{"p":"b","r":"r1","i":11,"x":1.45,"y":0.47},{"p":"b","r":"r1","i":12,"x":1.48,"y":0.56},{"p":"b","r":"r1","i":13,"x":1.49,"y":0.7},{"p":"b","r":"r1","i":14,"x":1.5,"y":0.81},{"p":"b","r":"r1","i":15,"x":1.52,"y":0.74},{"p":"b","r":"r1","i":16,"x":1.55,"y":0.62},{"p":"b","r":"r1","i":17,"x":1.58,"y":0.55},{"p":"b","r":"r1","i":18,"x":1.6,"y":0.6},{"p":"b","r":"r1","i":19,"x":1.62,"y":0.72},{"p":"b","r":"r1","i":20,"x":1.65,"y":0.66},{"p":"b","r":"r1","i":21,"x":1.68,"y":0.6},{"p":"b","r":"r1","i":22,"x":1.71,"y":0.52},{"p":"b","r":"r1","i":23,"x":1.74,"y":0.47},{"p":"b","r":"r1","i":24,"x":1.76,"y":0.38},{"p":"b","r":"r1","i":25,"x":1.8,"y":0.28},{"p":"b","r":"r1","i":26,"x":1.86,"y":0.16},{"p":"b","r":"r1","i":27,"x":1.93,"y":0.04},{"p":"b","r":"r1","i":28,"x":1.99,"y":-0.06},{"p":"b","r":"r1","i":29,"x":2.03,"y":-0.16},{"p":"b","r":"r1","i":30,"x":2.06,"y":-0.26},{"p":"b","r":"r1","i":31,"x":2.02,"y":-0.27},{"p":"b","r":"r1","i":32,"x":1.96,"y":-0.22},{"p":"b","r":"r1","i":33,"x":1.88,"y":-0.2},{"p":"b","r":"r1","i":34,"x":1.8,"y":-0.22},{"p":"b","r":"r1","i":35,"x":1.75,"y":-0.18},{"p":"b","r":"r1","i":36,"x":1.74,"y":-0.06},{"p":"b","r":"r1","i":37,"x":1.72,"y":-0.2},{"p":"b","r":"r1","i":38,"x":1.68,"y":-0.3},{"p":"b","r":"r1","i":39,"x":1.74,"y":-0.36},{"p":"b","r":"r1","i":40,"x":1.8,"y":-0.42},{"p":"b","r":"r1","i":41,"x":1.78,"y":-0.34},{"p":"b","r":"r1","i":42,"x":1.84,"y":-0.3},{"p":"b","r":"r1","i":43,"x":1.88,"y":-0.38},{"p":"b","r":"r1","i":44,"x":1.82,"y":-0.4},
{"p":"b","r":"r2","i":1,"x":0.83,"y":0.34},{"p":"b","r":"r2","i":2,"x":0.88,"y":0.38},{"p":"b","r":"r2","i":3,"x":0.92,"y":0.33},{"p":"b","r":"r2","i":4,"x":0.95,"y":0.27},{"p":"b","r":"r2","i":5,"x":1.0,"y":0.28},{"p":"b","r":"r2","i":6,"x":1.04,"y":0.33},{"p":"b","r":"r2","i":7,"x":1.08,"y":0.38},{"p":"b","r":"r2","i":8,"x":1.12,"y":0.4},{"p":"b","r":"r2","i":9,"x":1.18,"y":0.36},{"p":"b","r":"r2","i":10,"x":1.26,"y":0.33},{"p":"b","r":"r2","i":11,"x":1.33,"y":0.28},{"p":"b","r":"r2","i":12,"x":1.4,"y":0.24},{"p":"b","r":"r2","i":13,"x":1.47,"y":0.2},{"p":"b","r":"r2","i":14,"x":1.53,"y":0.17},{"p":"b","r":"r2","i":15,"x":1.58,"y":0.2},{"p":"b","r":"r2","i":16,"x":1.61,"y":0.27},{"p":"b","r":"r2","i":17,"x":1.64,"y":0.3},{"p":"b","r":"r2","i":18,"x":1.68,"y":0.25},{"p":"b","r":"r2","i":19,"x":1.73,"y":0.2},{"p":"b","r":"r2","i":20,"x":1.78,"y":0.14},{"p":"b","r":"r2","i":21,"x":1.84,"y":0.08},{"p":"b","r":"r2","i":22,"x":1.9,"y":0.02},{"p":"b","r":"r2","i":23,"x":1.95,"y":-0.04},{"p":"b","r":"r2","i":24,"x":2.0,"y":-0.12},{"p":"b","r":"r2","i":25,"x":2.02,"y":-0.2},{"p":"b","r":"r2","i":26,"x":2.0,"y":-0.26},{"p":"b","r":"r2","i":27,"x":1.95,"y":-0.28},{"p":"b","r":"r2","i":28,"x":1.9,"y":-0.32},{"p":"b","r":"r2","i":29,"x":1.84,"y":-0.36},{"p":"b","r":"r2","i":30,"x":1.78,"y":-0.4},{"p":"b","r":"r2","i":31,"x":1.72,"y":-0.36},{"p":"b","r":"r2","i":32,"x":1.66,"y":-0.3},{"p":"b","r":"r2","i":33,"x":1.62,"y":-0.28},{"p":"b","r":"r2","i":34,"x":1.68,"y":-0.34},{"p":"b","r":"r2","i":35,"x":1.74,"y":-0.42},{"p":"b","r":"r2","i":36,"x":1.8,"y":-0.46},{"p":"b","r":"r2","i":37,"x":1.76,"y":-0.38},{"p":"b","r":"r2","i":38,"x":1.7,"y":-0.32},
{"p":"b","r":"r3","i":1,"x":0.83,"y":0.36},{"p":"b","r":"r3","i":2,"x":0.88,"y":0.41},{"p":"b","r":"r3","i":3,"x":0.93,"y":0.37},{"p":"b","r":"r3","i":4,"x":0.99,"y":0.42},{"p":"b","r":"r3","i":5,"x":1.05,"y":0.4},{"p":"b","r":"r3","i":6,"x":1.1,"y":0.46},{"p":"b","r":"r3","i":7,"x":1.12,"y":0.55},{"p":"b","r":"r3","i":8,"x":1.12,"y":0.66},{"p":"b","r":"r3","i":9,"x":1.13,"y":0.75},{"p":"b","r":"r3","i":10,"x":1.18,"y":0.79},{"p":"b","r":"r3","i":11,"x":1.26,"y":0.8},{"p":"b","r":"r3","i":12,"x":1.3,"y":0.74},{"p":"b","r":"r3","i":13,"x":1.34,"y":0.62},{"p":"b","r":"r3","i":14,"x":1.38,"y":0.54},{"p":"b","r":"r3","i":15,"x":1.45,"y":0.46},{"p":"b","r":"r3","i":16,"x":1.52,"y":0.4},{"p":"b","r":"r3","i":17,"x":1.6,"y":0.38},{"p":"b","r":"r3","i":18,"x":1.66,"y":0.39},{"p":"b","r":"r3","i":19,"x":1.7,"y":0.3},{"p":"b","r":"r3","i":20,"x":1.74,"y":0.24},{"p":"b","r":"r3","i":21,"x":1.72,"y":0.32},{"p":"b","r":"r3","i":22,"x":1.65,"y":0.36},{"p":"b","r":"r3","i":23,"x":1.55,"y":0.38},{"p":"b","r":"r3","i":24,"x":1.45,"y":0.42},{"p":"b","r":"r3","i":25,"x":1.35,"y":0.45},{"p":"b","r":"r3","i":26,"x":1.25,"y":0.47},{"p":"b","r":"r3","i":27,"x":1.15,"y":0.48},{"p":"b","r":"r3","i":28,"x":1.05,"y":0.44},{"p":"b","r":"r3","i":29,"x":0.98,"y":0.4},{"p":"b","r":"r3","i":30,"x":0.92,"y":0.36},{"p":"b","r":"r3","i":31,"x":0.87,"y":0.38},
{"p":"b","r":"r4","i":1,"x":0.83,"y":0.35},{"p":"b","r":"r4","i":2,"x":0.87,"y":0.39},{"p":"b","r":"r4","i":3,"x":0.92,"y":0.42},{"p":"b","r":"r4","i":4,"x":0.98,"y":0.38},{"p":"b","r":"r4","i":5,"x":1.04,"y":0.42},{"p":"b","r":"r4","i":6,"x":1.1,"y":0.47},{"p":"b","r":"r4","i":7,"x":1.18,"y":0.5},{"p":"b","r":"r4","i":8,"x":1.28,"y":0.49},{"p":"b","r":"r4","i":9,"x":1.36,"y":0.46},{"p":"b","r":"r4","i":10,"x":1.41,"y":0.5},{"p":"b","r":"r4","i":11,"x":1.42,"y":0.62},{"p":"b","r":"r4","i":12,"x":1.43,"y":0.76},{"p":"b","r":"r4","i":13,"x":1.46,"y":0.7},{"p":"b","r":"r4","i":14,"x":1.5,"y":0.6},{"p":"b","r":"r4","i":15,"x":1.55,"y":0.54},{"p":"b","r":"r4","i":16,"x":1.6,"y":0.52},{"p":"b","r":"r4","i":17,"x":1.65,"y":0.48},{"p":"b","r":"r4","i":18,"x":1.7,"y":0.44},{"p":"b","r":"r4","i":19,"x":1.73,"y":0.38},{"p":"b","r":"r4","i":20,"x":1.76,"y":0.3},{"p":"b","r":"r4","i":21,"x":1.82,"y":0.2},{"p":"b","r":"r4","i":22,"x":1.88,"y":0.08},{"p":"b","r":"r4","i":23,"x":1.94,"y":-0.02},{"p":"b","r":"r4","i":24,"x":2.0,"y":-0.12},{"p":"b","r":"r4","i":25,"x":2.03,"y":-0.22},{"p":"b","r":"r4","i":26,"x":2.0,"y":-0.24},{"p":"b","r":"r4","i":27,"x":1.92,"y":-0.16},{"p":"b","r":"r4","i":28,"x":1.86,"y":-0.12},{"p":"b","r":"r4","i":29,"x":1.8,"y":-0.16},{"p":"b","r":"r4","i":30,"x":1.74,"y":-0.18},{"p":"b","r":"r4","i":31,"x":1.68,"y":-0.16},{"p":"b","r":"r4","i":32,"x":1.62,"y":-0.22},{"p":"b","r":"r4","i":33,"x":1.66,"y":-0.3},{"p":"b","r":"r4","i":34,"x":1.72,"y":-0.34},{"p":"b","r":"r4","i":35,"x":1.78,"y":-0.38},{"p":"b","r":"r4","i":36,"x":1.84,"y":-0.42},{"p":"b","r":"r4","i":37,"x":1.88,"y":-0.4},{"p":"b","r":"r4","i":38,"x":1.82,"y":-0.32},{"p":"b","r":"r4","i":39,"x":1.76,"y":-0.26},
{"p":"b","r":"r5","i":1,"x":0.84,"y":0.36},{"p":"b","r":"r5","i":2,"x":0.9,"y":0.4},{"p":"b","r":"r5","i":3,"x":0.94,"y":0.35},{"p":"b","r":"r5","i":4,"x":1.0,"y":0.41},{"p":"b","r":"r5","i":5,"x":1.06,"y":0.43},{"p":"b","r":"r5","i":6,"x":1.14,"y":0.49},{"p":"b","r":"r5","i":7,"x":1.22,"y":0.51},{"p":"b","r":"r5","i":8,"x":1.3,"y":0.48},{"p":"b","r":"r5","i":9,"x":1.38,"y":0.45},{"p":"b","r":"r5","i":10,"x":1.42,"y":0.55},{"p":"b","r":"r5","i":11,"x":1.44,"y":0.72},{"p":"b","r":"r5","i":12,"x":1.46,"y":0.66},{"p":"b","r":"r5","i":13,"x":1.52,"y":0.56},{"p":"b","r":"r5","i":14,"x":1.58,"y":0.5},{"p":"b","r":"r5","i":15,"x":1.64,"y":0.46},{"p":"b","r":"r5","i":16,"x":1.7,"y":0.46},{"p":"b","r":"r5","i":17,"x":1.72,"y":0.4},{"p":"b","r":"r5","i":18,"x":1.76,"y":0.32},{"p":"b","r":"r5","i":19,"x":1.8,"y":0.24},{"p":"b","r":"r5","i":20,"x":1.86,"y":0.12},{"p":"b","r":"r5","i":21,"x":1.92,"y":0.0},{"p":"b","r":"r5","i":22,"x":1.98,"y":-0.1},{"p":"b","r":"r5","i":23,"x":2.02,"y":-0.18},{"p":"b","r":"r5","i":24,"x":2.04,"y":-0.24},{"p":"b","r":"r5","i":25,"x":1.98,"y":-0.2},{"p":"b","r":"r5","i":26,"x":1.9,"y":-0.14},{"p":"b","r":"r5","i":27,"x":1.84,"y":-0.14},{"p":"b","r":"r5","i":28,"x":1.78,"y":-0.1},{"p":"b","r":"r5","i":29,"x":1.72,"y":-0.12},{"p":"b","r":"r5","i":30,"x":1.66,"y":-0.18},{"p":"b","r":"r5","i":31,"x":1.6,"y":-0.24},{"p":"b","r":"r5","i":32,"x":1.64,"y":-0.32},{"p":"b","r":"r5","i":33,"x":1.7,"y":-0.36},{"p":"b","r":"r5","i":34,"x":1.76,"y":-0.4},{"p":"b","r":"r5","i":35,"x":1.82,"y":-0.38},{"p":"b","r":"r5","i":36,"x":1.88,"y":-0.42},{"p":"b","r":"r5","i":37,"x":1.9,"y":-0.36},{"p":"b","r":"r5","i":38,"x":1.84,"y":-0.3},
{"p":"b","r":"r6","i":1,"x":0.83,"y":0.34},{"p":"b","r":"r6","i":2,"x":0.88,"y":0.39},{"p":"b","r":"r6","i":3,"x":0.93,"y":0.44},{"p":"b","r":"r6","i":4,"x":0.99,"y":0.4},{"p":"b","r":"r6","i":5,"x":1.05,"y":0.45},{"p":"b","r":"r6","i":6,"x":1.12,"y":0.5},{"p":"b","r":"r6","i":7,"x":1.2,"y":0.52},{"p":"b","r":"r6","i":8,"x":1.3,"y":0.5},{"p":"b","r":"r6","i":9,"x":1.4,"y":0.46},{"p":"b","r":"r6","i":10,"x":1.46,"y":0.48},{"p":"b","r":"r6","i":11,"x":1.5,"y":0.58},{"p":"b","r":"r6","i":12,"x":1.52,"y":0.66},{"p":"b","r":"r6","i":13,"x":1.56,"y":0.6},{"p":"b","r":"r6","i":14,"x":1.6,"y":0.54},{"p":"b","r":"r6","i":15,"x":1.66,"y":0.52},{"p":"b","r":"r6","i":16,"x":1.7,"y":0.48},{"p":"b","r":"r6","i":17,"x":1.74,"y":0.4},{"p":"b","r":"r6","i":18,"x":1.78,"y":0.32},{"p":"b","r":"r6","i":19,"x":1.84,"y":0.2},{"p":"b","r":"r6","i":20,"x":1.9,"y":0.08},{"p":"b","r":"r6","i":21,"x":1.96,"y":-0.04},{"p":"b","r":"r6","i":22,"x":2.02,"y":-0.14},{"p":"b","r":"r6","i":23,"x":2.05,"y":-0.24},{"p":"b","r":"r6","i":24,"x":2.0,"y":-0.22},{"p":"b","r":"r6","i":25,"x":1.94,"y":-0.18},{"p":"b","r":"r6","i":26,"x":1.86,"y":-0.2},{"p":"b","r":"r6","i":27,"x":1.78,"y":-0.22},{"p":"b","r":"r6","i":28,"x":1.7,"y":-0.24},{"p":"b","r":"r6","i":29,"x":1.64,"y":-0.28},{"p":"b","r":"r6","i":30,"x":1.7,"y":-0.32},{"p":"b","r":"r6","i":31,"x":1.76,"y":-0.36},{"p":"b","r":"r6","i":32,"x":1.82,"y":-0.34},{"p":"b","r":"r6","i":33,"x":1.86,"y":-0.28},{"p":"b","r":"r6","i":34,"x":1.8,"y":-0.26},{"p":"b","r":"r6","i":35,"x":1.74,"y":-0.3},
{"p":"b","r":"r7","i":1,"x":0.84,"y":0.35},{"p":"b","r":"r7","i":2,"x":0.89,"y":0.38},{"p":"b","r":"r7","i":3,"x":0.95,"y":0.42},{"p":"b","r":"r7","i":4,"x":1.0,"y":0.36},{"p":"b","r":"r7","i":5,"x":1.06,"y":0.42},{"p":"b","r":"r7","i":6,"x":1.12,"y":0.47},{"p":"b","r":"r7","i":7,"x":1.2,"y":0.5},{"p":"b","r":"r7","i":8,"x":1.28,"y":0.52},{"p":"b","r":"r7","i":9,"x":1.36,"y":0.48},{"p":"b","r":"r7","i":10,"x":1.44,"y":0.46},{"p":"b","r":"r7","i":11,"x":1.5,"y":0.44},{"p":"b","r":"r7","i":12,"x":1.56,"y":0.42},{"p":"b","r":"r7","i":13,"x":1.58,"y":0.48},{"p":"b","r":"r7","i":14,"x":1.62,"y":0.54},{"p":"b","r":"r7","i":15,"x":1.66,"y":0.46},{"p":"b","r":"r7","i":16,"x":1.7,"y":0.44},{"p":"b","r":"r7","i":17,"x":1.72,"y":0.48},{"p":"b","r":"r7","i":18,"x":1.74,"y":0.42},{"p":"b","r":"r7","i":19,"x":1.78,"y":0.34},{"p":"b","r":"r7","i":20,"x":1.84,"y":0.22},{"p":"b","r":"r7","i":21,"x":1.9,"y":0.1},{"p":"b","r":"r7","i":22,"x":1.96,"y":-0.02},{"p":"b","r":"r7","i":23,"x":2.02,"y":-0.12},{"p":"b","r":"r7","i":24,"x":2.06,"y":-0.22},{"p":"b","r":"r7","i":25,"x":2.06,"y":-0.26},{"p":"b","r":"r7","i":26,"x":2.0,"y":-0.22},{"p":"b","r":"r7","i":27,"x":1.92,"y":-0.18},{"p":"b","r":"r7","i":28,"x":1.84,"y":-0.16},{"p":"b","r":"r7","i":29,"x":1.76,"y":-0.14},{"p":"b","r":"r7","i":30,"x":1.7,"y":-0.18},{"p":"b","r":"r7","i":31,"x":1.64,"y":-0.24},{"p":"b","r":"r7","i":32,"x":1.6,"y":-0.3},{"p":"b","r":"r7","i":33,"x":1.66,"y":-0.36},{"p":"b","r":"r7","i":34,"x":1.72,"y":-0.32},{"p":"b","r":"r7","i":35,"x":1.78,"y":-0.36},{"p":"b","r":"r7","i":36,"x":1.84,"y":-0.4},{"p":"b","r":"r7","i":37,"x":1.88,"y":-0.34},{"p":"b","r":"r7","i":38,"x":1.8,"y":-0.28},{"p":"b","r":"r7","i":39,"x":1.72,"y":-0.28},{"p":"b","r":"r7","i":40,"x":1.66,"y":-0.26},
{"p":"b","r":"r8","i":1,"x":0.84,"y":0.35},{"p":"b","r":"r8","i":2,"x":0.88,"y":0.4},{"p":"b","r":"r8","i":3,"x":0.92,"y":0.35},{"p":"b","r":"r8","i":4,"x":0.96,"y":0.43},{"p":"b","r":"r8","i":5,"x":1.0,"y":0.38},{"p":"b","r":"r8","i":6,"x":1.04,"y":0.44},{"p":"b","r":"r8","i":7,"x":1.08,"y":0.4},{"p":"b","r":"r8","i":8,"x":1.02,"y":0.34},{"p":"b","r":"r8","i":9,"x":0.96,"y":0.37},{"p":"b","r":"r8","i":10,"x":1.0,"y":0.45},{"p":"b","r":"r8","i":11,"x":1.08,"y":0.48},{"p":"b","r":"r8","i":12,"x":1.16,"y":0.52},{"p":"b","r":"r8","i":13,"x":1.24,"y":0.54},{"p":"b","r":"r8","i":14,"x":1.26,"y":0.66},{"p":"b","r":"r8","i":15,"x":1.24,"y":0.75},{"p":"b","r":"r8","i":16,"x":1.26,"y":0.79},{"p":"b","r":"r8","i":17,"x":1.3,"y":0.78},{"p":"b","r":"r8","i":18,"x":1.34,"y":0.7},{"p":"b","r":"r8","i":19,"x":1.38,"y":0.6},{"p":"b","r":"r8","i":20,"x":1.4,"y":0.53},{"p":"b","r":"r8","i":21,"x":1.36,"y":0.51},{"p":"b","r":"r8","i":22,"x":1.3,"y":0.6},{"p":"b","r":"r8","i":23,"x":1.26,"y":0.68},{"p":"b","r":"r8","i":24,"x":1.24,"y":0.62},{"p":"b","r":"r8","i":25,"x":1.22,"y":0.55},{"p":"b","r":"r8","i":26,"x":1.15,"y":0.5},{"p":"b","r":"r8","i":27,"x":1.08,"y":0.46},{"p":"b","r":"r8","i":28,"x":1.02,"y":0.42},{"p":"b","r":"r8","i":29,"x":0.96,"y":0.39},{"p":"b","r":"r8","i":30,"x":0.92,"y":0.42},{"p":"b","r":"r8","i":31,"x":0.88,"y":0.36},
{"p":"c","r":"r1","i":1,"x":0.815,"y":0.31},{"p":"c","r":"r1","i":2,"x":0.84,"y":0.34},{"p":"c","r":"r1","i":3,"x":0.88,"y":0.39},{"p":"c","r":"r1","i":4,"x":0.92,"y":0.5},{"p":"c","r":"r1","i":5,"x":0.94,"y":0.46},{"p":"c","r":"r1","i":6,"x":0.98,"y":0.47},{"p":"c","r":"r1","i":7,"x":1.04,"y":0.52},{"p":"c","r":"r1","i":8,"x":1.13,"y":0.56},{"p":"c","r":"r1","i":9,"x":1.25,"y":0.6},{"p":"c","r":"r1","i":10,"x":1.3,"y":0.58},{"p":"c","r":"r1","i":11,"x":1.38,"y":0.54},{"p":"c","r":"r1","i":12,"x":1.46,"y":0.47},{"p":"c","r":"r1","i":13,"x":1.5,"y":0.44},{"p":"c","r":"r1","i":14,"x":1.55,"y":0.46},{"p":"c","r":"r1","i":15,"x":1.59,"y":0.5},{"p":"c","r":"r1","i":16,"x":1.61,"y":0.63},{"p":"c","r":"r1","i":17,"x":1.63,"y":0.64},{"p":"c","r":"r1","i":18,"x":1.65,"y":0.55},{"p":"c","r":"r1","i":19,"x":1.7,"y":0.51},{"p":"c","r":"r1","i":20,"x":1.76,"y":0.49},{"p":"c","r":"r1","i":21,"x":1.81,"y":0.51},{"p":"c","r":"r1","i":22,"x":1.84,"y":0.46},{"p":"c","r":"r1","i":23,"x":1.88,"y":0.4},{"p":"c","r":"r1","i":24,"x":1.94,"y":0.31},{"p":"c","r":"r1","i":25,"x":2.0,"y":0.21},{"p":"c","r":"r1","i":26,"x":2.06,"y":0.12},{"p":"c","r":"r1","i":27,"x":2.12,"y":0.02},{"p":"c","r":"r1","i":28,"x":2.17,"y":-0.06},{"p":"c","r":"r1","i":29,"x":2.19,"y":-0.15},{"p":"c","r":"r1","i":30,"x":2.19,"y":-0.21},{"p":"c","r":"r1","i":31,"x":2.15,"y":-0.19},{"p":"c","r":"r1","i":32,"x":2.06,"y":-0.17},{"p":"c","r":"r1","i":33,"x":1.98,"y":-0.11},{"p":"c","r":"r1","i":34,"x":1.92,"y":-0.08},{"p":"c","r":"r1","i":35,"x":1.84,"y":-0.08},{"p":"c","r":"r1","i":36,"x":1.77,"y":-0.08},{"p":"c","r":"r1","i":37,"x":1.73,"y":-0.06},{"p":"c","r":"r1","i":38,"x":1.74,"y":-0.16},{"p":"c","r":"r1","i":39,"x":1.76,"y":-0.25},{"p":"c","r":"r1","i":40,"x":1.79,"y":-0.34},{"p":"c","r":"r1","i":41,"x":1.84,"y":-0.39},{"p":"c","r":"r1","i":42,"x":1.88,"y":-0.41},{"p":"c","r":"r1","i":43,"x":1.93,"y":-0.37},{"p":"c","r":"r1","i":44,"x":1.95,"y":-0.42},{"p":"c","r":"r1","i":45,"x":1.99,"y":-0.45},{"p":"c","r":"r1","i":46,"x":2.0,"y":-0.5},
{"p":"c","r":"r4","i":1,"x":0.835,"y":0.367},{"p":"c","r":"r4","i":2,"x":0.898,"y":0.456},{"p":"c","r":"r4","i":3,"x":0.981,"y":0.478},{"p":"c","r":"r4","i":4,"x":1.065,"y":0.522},{"p":"c","r":"r4","i":5,"x":1.169,"y":0.578},{"p":"c","r":"r4","i":6,"x":1.273,"y":0.556},{"p":"c","r":"r4","i":7,"x":1.377,"y":0.489},{"p":"c","r":"r4","i":8,"x":1.46,"y":0.422},{"p":"c","r":"r4","i":9,"x":1.523,"y":0.456},{"p":"c","r":"r4","i":10,"x":1.544,"y":0.656},{"p":"c","r":"r4","i":11,"x":1.575,"y":0.7},{"p":"c","r":"r4","i":12,"x":1.606,"y":0.667},{"p":"c","r":"r4","i":13,"x":1.627,"y":0.522},{"p":"c","r":"r4","i":14,"x":1.752,"y":0.489},{"p":"c","r":"r4","i":15,"x":1.835,"y":0.456},{"p":"c","r":"r4","i":16,"x":1.877,"y":0.367},{"p":"c","r":"r4","i":17,"x":1.94,"y":0.411},{"p":"c","r":"r4","i":18,"x":1.96,"y":0.344},{"p":"c","r":"r4","i":19,"x":2.023,"y":0.167},{"p":"c","r":"r4","i":20,"x":2.106,"y":0.033},{"p":"c","r":"r4","i":21,"x":2.148,"y":-0.078},{"p":"c","r":"r4","i":22,"x":2.127,"y":-0.167},{"p":"c","r":"r4","i":23,"x":2.085,"y":-0.189},{"p":"c","r":"r4","i":24,"x":2.002,"y":-0.144},{"p":"c","r":"r4","i":25,"x":1.919,"y":-0.056},{"p":"c","r":"r4","i":26,"x":1.856,"y":-0.056},{"p":"c","r":"r4","i":27,"x":1.752,"y":-0.056},{"p":"c","r":"r4","i":28,"x":1.71,"y":-0.122},{"p":"c","r":"r4","i":29,"x":1.648,"y":-0.167},{"p":"c","r":"r4","i":30,"x":1.669,"y":-0.256},{"p":"c","r":"r4","i":31,"x":1.752,"y":-0.344},{"p":"c","r":"r4","i":32,"x":1.835,"y":-0.478},{"p":"c","r":"r4","i":33,"x":1.815,"y":-0.411},{"p":"c","r":"r4","i":34,"x":1.752,"y":-0.3},{"p":"c","r":"r4","i":35,"x":1.71,"y":-0.211},
{"p":"c","r":"r8","i":1,"x":0.825,"y":0.367},{"p":"c","r":"r8","i":2,"x":0.846,"y":0.411},{"p":"c","r":"r8","i":3,"x":0.919,"y":0.456},{"p":"c","r":"r8","i":4,"x":1.002,"y":0.489},{"p":"c","r":"r8","i":5,"x":1.044,"y":0.556},{"p":"c","r":"r8","i":6,"x":1.127,"y":0.589},{"p":"c","r":"r8","i":7,"x":1.169,"y":0.6},{"p":"c","r":"r8","i":8,"x":1.231,"y":0.578},{"p":"c","r":"r8","i":9,"x":1.294,"y":0.544},{"p":"c","r":"r8","i":10,"x":1.377,"y":0.478},{"p":"c","r":"r8","i":11,"x":1.481,"y":0.4},{"p":"c","r":"r8","i":12,"x":1.544,"y":0.444},{"p":"c","r":"r8","i":13,"x":1.585,"y":0.489},{"p":"c","r":"r8","i":14,"x":1.602,"y":0.633},{"p":"c","r":"r8","i":15,"x":1.617,"y":0.644},{"p":"c","r":"r8","i":16,"x":1.627,"y":0.556},{"p":"c","r":"r8","i":17,"x":1.669,"y":0.5},{"p":"c","r":"r8","i":18,"x":1.752,"y":0.467},{"p":"c","r":"r8","i":19,"x":1.794,"y":0.489},{"p":"c","r":"r8","i":20,"x":1.815,"y":0.511},{"p":"c","r":"r8","i":21,"x":1.846,"y":0.478},{"p":"c","r":"r8","i":22,"x":1.898,"y":0.389},{"p":"c","r":"r8","i":23,"x":1.96,"y":0.3},{"p":"c","r":"r8","i":24,"x":2.023,"y":0.189},{"p":"c","r":"r8","i":25,"x":2.106,"y":0.056},{"p":"c","r":"r8","i":26,"x":2.169,"y":-0.033},{"p":"c","r":"r8","i":27,"x":2.2,"y":-0.167},{"p":"c","r":"r8","i":28,"x":2.179,"y":-0.178},{"p":"c","r":"r8","i":29,"x":2.127,"y":-0.189},{"p":"c","r":"r8","i":30,"x":2.065,"y":-0.144},{"p":"c","r":"r8","i":31,"x":1.981,"y":-0.078},{"p":"c","r":"r8","i":32,"x":1.919,"y":-0.056},{"p":"c","r":"r8","i":33,"x":1.835,"y":-0.022},{"p":"c","r":"r8","i":34,"x":1.752,"y":-0.011},{"p":"c","r":"r8","i":35,"x":1.721,"y":-0.033},{"p":"c","r":"r8","i":36,"x":1.731,"y":-0.122},{"p":"c","r":"r8","i":37,"x":1.752,"y":-0.211},{"p":"c","r":"r8","i":38,"x":1.669,"y":-0.233},{"p":"c","r":"r8","i":39,"x":1.71,"y":-0.322},{"p":"c","r":"r8","i":40,"x":1.794,"y":-0.389},{"p":"c","r":"r8","i":41,"x":1.846,"y":-0.344},{"p":"c","r":"r8","i":42,"x":1.752,"y":-0.278},{"p":"c","r":"r8","i":43,"x":1.69,"y":-0.211},{"p":"c","r":"r8","i":44,"x":1.648,"y":-0.256},{"p":"c","r":"r8","i":45,"x":1.731,"y":-0.344},{"p":"c","r":"r8","i":46,"x":1.815,"y":-0.3}
],
"labels":[
{"p":"a","k":"Edge","x":0.87,"y":0.833},{"p":"a","k":"Ghost","x":1.49,"y":0.89},{"p":"all","k":"ON","x":0.78,"y":0.14},{"p":"all","k":"OFF","x":1.3,"y":-0.367}
]
},
"concat":[
{"width":272,"height":120,"title":"(a) SSP1-2.6","data":{"name":"ts"},"transform":[{"filter":"datum.p == 'a'"}],"mark":{"type":"line","strokeWidth":2.6},
"encoding":{"x":{"field":"t","type":"quantitative","scale":{"domain":[2000,3000],"nice":false,"zero":false},"axis":{"values":[2000,2200,2400,2600,2800,3000],"format":"d","title":"Time (year C.E.)"}},
"y":{"field":"v","type":"quantitative","scale":{"domain":[0,24],"nice":false},"axis":{"values":[0,10,20],"title":"AMOC strength (Sv)"}},
"color":{"field":"r","type":"nominal","scale":{"domain":["r1","r2","r3","r4","r5","r6","r7","r8","ON","OFF","Edge","Ghost"],"range":["#0b0b80","#1f4e79","#2e9a7a","#3cb371","#7cbf4e","#a8b43a","#d4a72c","#ffa500","#b22222","#1e90ff","#999999","#cfcfcf"]},"legend":null}}},
{"width":272,"height":120,"title":"(b) SSP2-4.5","data":{"name":"ts"},"transform":[{"filter":"datum.p == 'b'"}],"mark":{"type":"line","strokeWidth":2.6},
"encoding":{"x":{"field":"t","type":"quantitative","scale":{"domain":[2000,3000],"nice":false,"zero":false},"axis":{"values":[2000,2200,2400,2600,2800,3000],"format":"d","title":"Time (year C.E.)"}},
"y":{"field":"v","type":"quantitative","scale":{"domain":[0,24],"nice":false},"axis":{"values":[0,10,20],"title":null}},
"color":{"field":"r","type":"nominal","scale":{"domain":["r1","r2","r3","r4","r5","r6","r7","r8","ON","OFF","Edge","Ghost"],"range":["#0b0b80","#1f4e79","#2e9a7a","#3cb371","#7cbf4e","#a8b43a","#d4a72c","#ffa500","#b22222","#1e90ff","#999999","#cfcfcf"]},"legend":null}}},
{"width":272,"height":120,"title":"(c) SSP4-6.0","data":{"name":"ts"},"transform":[{"filter":"datum.p == 'c'"}],"mark":{"type":"line","strokeWidth":2.6},
"encoding":{"x":{"field":"t","type":"quantitative","scale":{"domain":[2000,3000],"nice":false,"zero":false},"axis":{"values":[2000,2200,2400,2600,2800,3000],"format":"d","title":"Time (year C.E.)"}},
"y":{"field":"v","type":"quantitative","scale":{"domain":[0,24],"nice":false},"axis":{"values":[0,10,20],"title":null}},
"color":{"field":"r","type":"nominal","scale":{"domain":["r1","r2","r3","r4","r5","r6","r7","r8","ON","OFF","Edge","Ghost"],"range":["#0b0b80","#1f4e79","#2e9a7a","#3cb371","#7cbf4e","#a8b43a","#d4a72c","#ffa500","#b22222","#1e90ff","#999999","#cfcfcf"]},"legend":null}}},
{"width":272,"height":240,
"encoding":{"x":{"field":"x","type":"quantitative","scale":{"domain":[0.6,2.3],"nice":false,"zero":false},"axis":{"values":[1.0,1.5,2.0],"format":".1f","title":"Meridional SG (g/kg)"}},
"y":{"field":"y","type":"quantitative","scale":{"domain":[-0.6,1.0],"nice":false,"zero":false},"axis":{"values":[-0.6,-0.2,0.2,0.6,1.0],"format":".1f","title":"Vertical SG (g/kg)"}}},
"layer":[
{"data":{"name":"shapes"},"transform":[{"filter":"datum.g == 'ghost'"}],"mark":{"type":"line","fill":"#d9d9d9","stroke":"#d9d9d9","strokeWidth":0.5},"encoding":{"order":{"field":"i","type":"quantitative"}}},
{"data":{"name":"shapes"},"transform":[{"filter":"datum.g == 'edge'"}],"mark":{"type":"line","fill":"#a9a9a9","stroke":"#a9a9a9","strokeWidth":0.5},"encoding":{"order":{"field":"i","type":"quantitative"}}},
{"data":{"name":"attr"},"mark":{"type":"line","strokeWidth":2.2},"encoding":{"order":{"field":"i","type":"quantitative"},"color":{"field":"g","type":"nominal","scale":{"domain":["r1","r2","r3","r4","r5","r6","r7","r8","ON","OFF","Edge","Ghost"],"range":["#0b0b80","#1f4e79","#2e9a7a","#3cb371","#7cbf4e","#a8b43a","#d4a72c","#ffa500","#b22222","#1e90ff","#999999","#cfcfcf"]},"legend":null}}},
{"data":{"name":"traj"},"transform":[{"filter":"datum.p == 'a'"}],"mark":{"type":"line","strokeWidth":3.2},"encoding":{"order":{"field":"i","type":"quantitative"},"color":{"field":"r","type":"nominal","scale":{"domain":["r1","r2","r3","r4","r5","r6","r7","r8","ON","OFF","Edge","Ghost"],"range":["#0b0b80","#1f4e79","#2e9a7a","#3cb371","#7cbf4e","#a8b43a","#d4a72c","#ffa500","#b22222","#1e90ff","#999999","#cfcfcf"]},"legend":null}}},
{"data":{"name":"labels"},"transform":[{"filter":"datum.p == 'a' || datum.p == 'all'"}],"mark":{"type":"text","fontSize":16.5,"font":"Lato"},"encoding":{"text":{"field":"k"},"color":{"field":"k","type":"nominal","scale":{"domain":["r1","r2","r3","r4","r5","r6","r7","r8","ON","OFF","Edge","Ghost"],"range":["#0b0b80","#1f4e79","#2e9a7a","#3cb371","#7cbf4e","#a8b43a","#d4a72c","#ffa500","#b22222","#1e90ff","#999999","#cfcfcf"]},"legend":null}}}
]},
{"width":272,"height":240,
"encoding":{"x":{"field":"x","type":"quantitative","scale":{"domain":[0.6,2.3],"nice":false,"zero":false},"axis":{"values":[1.0,1.5,2.0],"format":".1f","title":"Meridional SG (g/kg)"}},
"y":{"field":"y","type":"quantitative","scale":{"domain":[-0.6,1.0],"nice":false,"zero":false},"axis":{"values":[-0.6,-0.2,0.2,0.6,1.0],"format":".1f","title":null}}},
"layer":[
{"data":{"name":"shapes"},"transform":[{"filter":"datum.g == 'ghost'"}],"mark":{"type":"line","fill":"#d9d9d9","stroke":"#d9d9d9","strokeWidth":0.5},"encoding":{"order":{"field":"i","type":"quantitative"}}},
{"data":{"name":"shapes"},"transform":[{"filter":"datum.g == 'edge'"}],"mark":{"type":"line","fill":"#a9a9a9","stroke":"#a9a9a9","strokeWidth":0.5},"encoding":{"order":{"field":"i","type":"quantitative"}}},
{"data":{"name":"attr"},"mark":{"type":"line","strokeWidth":2.2},"encoding":{"order":{"field":"i","type":"quantitative"},"color":{"field":"g","type":"nominal","scale":{"domain":["r1","r2","r3","r4","r5","r6","r7","r8","ON","OFF","Edge","Ghost"],"range":["#0b0b80","#1f4e79","#2e9a7a","#3cb371","#7cbf4e","#a8b43a","#d4a72c","#ffa500","#b22222","#1e90ff","#999999","#cfcfcf"]},"legend":null}}},
{"data":{"name":"traj"},"transform":[{"filter":"datum.p == 'b'"}],"mark":{"type":"line","strokeWidth":2.2},"encoding":{"order":{"field":"i","type":"quantitative"},"color":{"field":"r","type":"nominal","scale":{"domain":["r1","r2","r3","r4","r5","r6","r7","r8","ON","OFF","Edge","Ghost"],"range":["#0b0b80","#1f4e79","#2e9a7a","#3cb371","#7cbf4e","#a8b43a","#d4a72c","#ffa500","#b22222","#1e90ff","#999999","#cfcfcf"]},"legend":null}}},
{"data":{"name":"labels"},"transform":[{"filter":"datum.p == 'all'"}],"mark":{"type":"text","fontSize":16.5,"font":"Lato"},"encoding":{"text":{"field":"k"},"color":{"field":"k","type":"nominal","scale":{"domain":["r1","r2","r3","r4","r5","r6","r7","r8","ON","OFF","Edge","Ghost"],"range":["#0b0b80","#1f4e79","#2e9a7a","#3cb371","#7cbf4e","#a8b43a","#d4a72c","#ffa500","#b22222","#1e90ff","#999999","#cfcfcf"]},"legend":null}}}
]},
{"width":272,"height":240,
"encoding":{"x":{"field":"x","type":"quantitative","scale":{"domain":[0.6,2.3],"nice":false,"zero":false},"axis":{"values":[1.0,1.5,2.0],"format":".1f","title":"Meridional SG (g/kg)"}},
"y":{"field":"y","type":"quantitative","scale":{"domain":[-0.6,1.0],"nice":false,"zero":false},"axis":{"values":[-0.6,-0.2,0.2,0.6,1.0],"format":".1f","title":null}}},
"layer":[
{"data":{"name":"shapes"},"transform":[{"filter":"datum.g == 'ghost'"}],"mark":{"type":"line","fill":"#d9d9d9","stroke":"#d9d9d9","strokeWidth":0.5},"encoding":{"order":{"field":"i","type":"quantitative"}}},
{"data":{"name":"shapes"},"transform":[{"filter":"datum.g == 'edge'"}],"mark":{"type":"line","fill":"#a9a9a9","stroke":"#a9a9a9","strokeWidth":0.5},"encoding":{"order":{"field":"i","type":"quantitative"}}},
{"data":{"name":"attr"},"mark":{"type":"line","strokeWidth":2.2},"encoding":{"order":{"field":"i","type":"quantitative"},"color":{"field":"g","type":"nominal","scale":{"domain":["r1","r2","r3","r4","r5","r6","r7","r8","ON","OFF","Edge","Ghost"],"range":["#0b0b80","#1f4e79","#2e9a7a","#3cb371","#7cbf4e","#a8b43a","#d4a72c","#ffa500","#b22222","#1e90ff","#999999","#cfcfcf"]},"legend":null}}},
{"data":{"name":"traj"},"transform":[{"filter":"datum.p == 'c'"}],"mark":{"type":"line","strokeWidth":2.2},"encoding":{"order":{"field":"i","type":"quantitative"},"color":{"field":"r","type":"nominal","scale":{"domain":["r1","r2","r3","r4","r5","r6","r7","r8","ON","OFF","Edge","Ghost"],"range":["#0b0b80","#1f4e79","#2e9a7a","#3cb371","#7cbf4e","#a8b43a","#d4a72c","#ffa500","#b22222","#1e90ff","#999999","#cfcfcf"]},"legend":null}}},
{"data":{"name":"labels"},"transform":[{"filter":"datum.p == 'all'"}],"mark":{"type":"text","fontSize":16.5,"font":"Lato"},"encoding":{"text":{"field":"k"},"color":{"field":"k","type":"nominal","scale":{"domain":["r1","r2","r3","r4","r5","r6","r7","r8","ON","OFF","Edge","Ghost"],"range":["#0b0b80","#1f4e79","#2e9a7a","#3cb371","#7cbf4e","#a8b43a","#d4a72c","#ffa500","#b22222","#1e90ff","#999999","#cfcfcf"]},"legend":null}}}
]}
]
}
